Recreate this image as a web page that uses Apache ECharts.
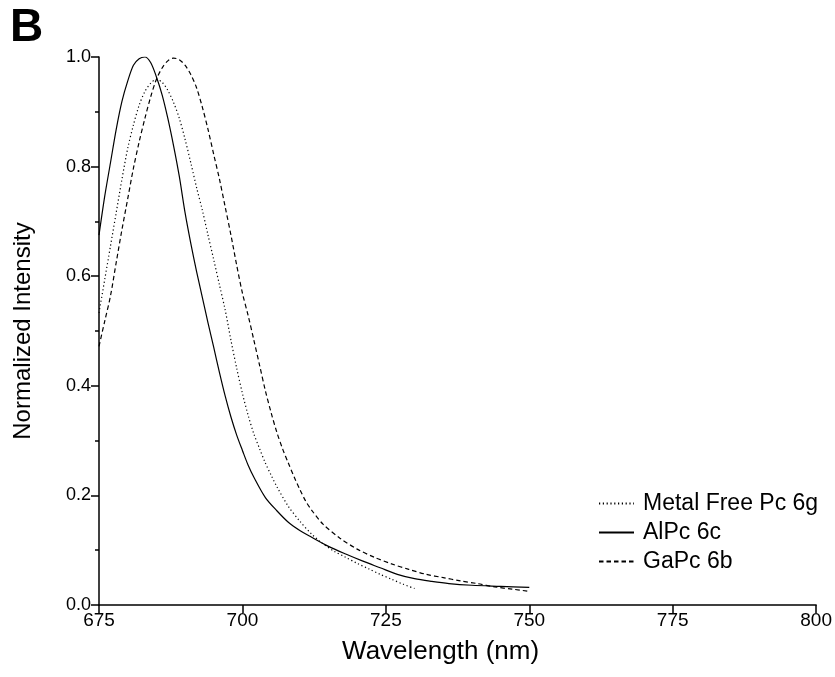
<!DOCTYPE html>
<html>
<head>
<meta charset="utf-8">
<script src="https://cdn.jsdelivr.net/npm/echarts@6/dist/echarts.min.js"></script>
<style>html,body{margin:0;padding:0;background:#fff}#c{width:835px;height:677px}</style>
</head>
<body>
<div id="c"></div>
<script>
// Wavelength (nm) / normalized intensity pairs
const metalFreeWl = [675,676,677,678,679,680,681,682,683,684,685,686,687,688,689,690,691,692,693,694,695,696,697,698,699,700,701,702,703,704,705,706,708,710,712,714,716,718,720,722,724,726,728,730];
const metalFreeI  = [0.533,0.594,0.655,0.716,0.777,0.833,0.876,0.912,0.937,0.952,0.959,0.954,0.939,0.917,0.888,0.850,0.807,0.762,0.721,0.675,0.630,0.584,0.538,0.483,0.432,0.386,0.346,0.312,0.285,0.259,0.237,0.216,0.180,0.153,0.130,0.112,0.098,0.087,0.076,0.066,0.056,0.047,0.038,0.030];

const alpcWl = [675,676,677,678,679,680,681,682,683,684,685,686,687,688,689,690,691,692,693,694,695,696,697,698,699,700,701,702,704,706,708,710,712,715,718,721,724,727,730,733,736,740,745,750];
const alpcI  = [0.675,0.746,0.807,0.868,0.919,0.956,0.985,0.997,1.0,0.990,0.964,0.931,0.888,0.838,0.782,0.716,0.660,0.609,0.562,0.515,0.470,0.424,0.381,0.343,0.310,0.282,0.255,0.233,0.196,0.172,0.151,0.136,0.124,0.107,0.093,0.080,0.068,0.056,0.048,0.043,0.039,0.036,0.034,0.032];

const gapcWl = [675,676,677,678,679,680,681,682,683,684,685,686,687,688,689,690,691,692,693,694,695,696,697,698,699,700,701,702,703,704,705,706,707,708,709,710,711,712,714,717,720,723,726,729,732,735,738,741,744,747,750];
const gapcI  = [0.472,0.518,0.564,0.625,0.685,0.741,0.797,0.845,0.888,0.927,0.959,0.980,0.993,0.998,0.995,0.985,0.968,0.944,0.909,0.868,0.822,0.777,0.726,0.675,0.620,0.569,0.528,0.483,0.437,0.391,0.351,0.315,0.285,0.259,0.234,0.211,0.190,0.174,0.148,0.122,0.102,0.087,0.075,0.065,0.056,0.050,0.044,0.039,0.033,0.029,0.025];

const seriesNames = ['Metal Free Pc 6g', 'AlPc 6c', 'GaPc 6b'];
const xTicks = [675, 700, 725, 750, 775, 800];
const yTicks = [0.0, 0.2, 0.4, 0.6, 0.8, 1.0];

function pairs(xs, ys) { return xs.map((x, i) => [x, ys[i]]); }

const chart = echarts.init(document.getElementById('c'), null, {renderer: 'canvas'});
const font = 'Liberation Sans, Arial, Helvetica, sans-serif';
chart.setOption({
  animation: false,
  backgroundColor: '#ffffff',
  textStyle: {fontFamily: font, color: '#000'},
  grid: {left: 99, right: 18, top: 57, bottom: 72, containLabel: false},
  graphic: [{
    type: 'text', left: 10, top: 5,
    style: {text: 'B', font: 'bold 46px ' + font, fill: '#000'}
  }],
  legend: {
    orient: 'vertical', left: 593, top: 487,
    itemWidth: 35, itemHeight: 10, itemGap: 6,
    itemStyle: {opacity: 0},
    textStyle: {fontSize: 23, fontFamily: font, color: '#000', padding: [0, 0, 0, 4]},
    data: seriesNames
  },
  xAxis: {
    type: 'value', min: xTicks[0], max: xTicks[xTicks.length - 1], interval: 25,
    name: 'Wavelength (nm)', nameLocation: 'middle', nameGap: 34,
    nameTextStyle: {fontSize: 26, fontFamily: font, color: '#000', padding: [0, 34, 0, 0]},
    axisLine: {lineStyle: {color: '#000', width: 1.5}},
    axisTick: {length: 8, lineStyle: {color: '#000', width: 1.5}},
    axisLabel: {fontSize: 19, color: '#000', fontFamily: font, margin: 6},
    splitLine: {show: false}
  },
  yAxis: {
    type: 'value', min: 0, max: 1, interval: 0.2,
    name: 'Normalized Intensity', nameLocation: 'middle', nameGap: 64,
    nameTextStyle: {fontSize: 24, fontFamily: font, color: '#000'},
    axisLine: {show: true, lineStyle: {color: '#000', width: 1.5}},
    axisTick: {show: true, length: 8, lineStyle: {color: '#000', width: 1.5}},
    minorTick: {show: true, splitNumber: 2, length: 4, lineStyle: {color: '#000', width: 1.5}},
    axisLabel: {fontSize: 18, color: '#000', fontFamily: font, margin: 8, formatter: v => v.toFixed(1)},
    splitLine: {show: false}
  },
  series: [
    {name: seriesNames[0], type: 'line', data: pairs(metalFreeWl, metalFreeI), smooth: 0.3, symbol: 'none',
     lineStyle: {color: '#000', width: 1.2, type: [1.2, 2.6]}, itemStyle: {color: '#000'}},
    {name: seriesNames[1], type: 'line', data: pairs(alpcWl, alpcI), smooth: 0.3, symbol: 'none',
     lineStyle: {color: '#000', width: 1.2, type: 'solid'}, itemStyle: {color: '#000'}},
    {name: seriesNames[2], type: 'line', data: pairs(gapcWl, gapcI), smooth: 0.3, symbol: 'none',
     lineStyle: {color: '#000', width: 1.2, type: [4.5, 3]}, itemStyle: {color: '#000'}}
  ]
});
</script>
</body>
</html>
